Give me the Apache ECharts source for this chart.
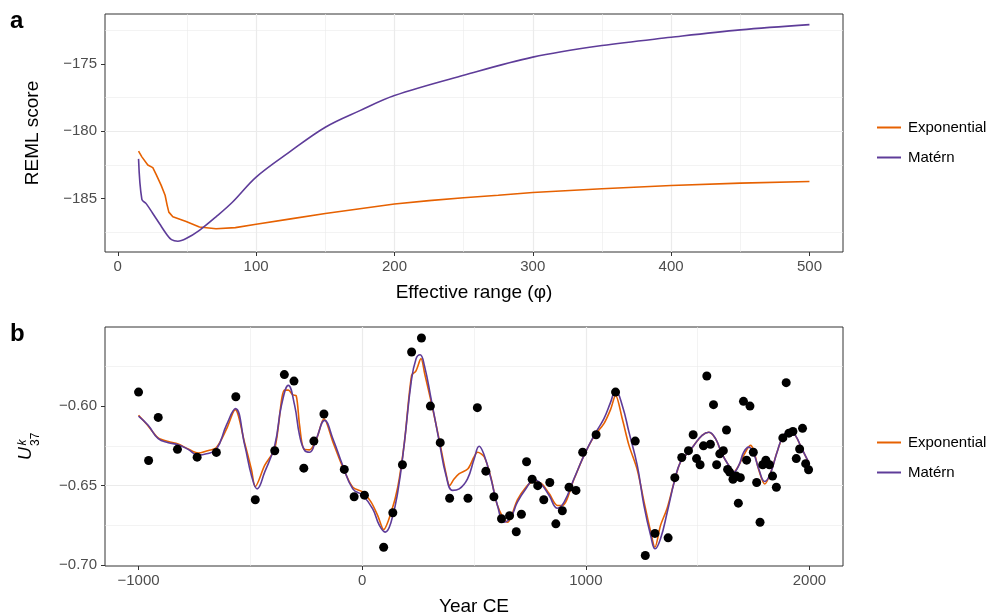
<!DOCTYPE html>
<html><head><meta charset="utf-8">
<script src="https://cdn.jsdelivr.net/npm/echarts@6/dist/echarts.min.js"></script>
<style>html,body{margin:0;padding:0;background:#fff}#c{width:990px;height:615px}</style>
</head><body><div id="c"></div>
<script>
// ---------- Panel a : REML score vs effective range ----------
const rangeExp = [15,17.4,21.7,25.3,27.7,31.3,34.2,35.7,36.9,39.8,49.4,59,71,85,100,125,150,175,200,225,250,275,300,350,400,450,500];
const remlExp  = [-181.48,-181.9,-182.5,-182.7,-183.2,-184.0,-184.75,-185.5,-186.0,-186.35,-186.7,-187.1,-187.23,-187.15,-186.9,-186.5,-186.1,-185.75,-185.4,-185.15,-184.93,-184.75,-184.55,-184.27,-184.02,-183.85,-183.73];
const rangeMat = [15,17.4,20.5,25.3,30.1,35,38.8,43.4,49.4,59,71,83,100,124,150,175,200,250,300,350,400,450,500];
const remlMat  = [-182.05,-185.05,-185.37,-186.1,-186.85,-187.6,-188.04,-188.16,-187.96,-187.35,-186.35,-185.25,-183.4,-181.55,-179.7,-178.47,-177.35,-175.85,-174.5,-173.64,-173.03,-172.48,-172.09];
const xTicksA = [0,100,200,300,400,500];
const yTicksA = [-185,-180,-175];

// ---------- Panel b : U37k vs year ----------
const yearPts = [-1000,-955,-912,-826,-738,-652,-565,-478,-391,-348,-305,-261,-216,-171,-80,-36,10,96,137,180,221,265,305,349,391,473,515,553,589,623,659,689,712,735,760,785,812,839,866,895,925,956,986,1046,1133,1221,1266,1309,1368,1398,1429,1459,1480,1495,1511,1526,1541,1557,1571,1585,1599,1615,1629,1634,1643,1658,1673,1682,1691,1705,1719,1734,1749,1764,1779,1791,1805,1821,1835,1852,1881,1896,1908,1926,1941,1956,1969,1983,1996];
const ukPts = [-0.5912,-0.6342,-0.6071,-0.6272,-0.6321,-0.6291,-0.5941,-0.6589,-0.6281,-0.5802,-0.5843,-0.639,-0.622,-0.605,-0.6398,-0.657,-0.656,-0.6887,-0.667,-0.6369,-0.566,-0.5572,-0.600,-0.623,-0.6579,-0.6579,-0.601,-0.6409,-0.657,-0.6708,-0.6689,-0.679,-0.668,-0.635,-0.646,-0.650,-0.6589,-0.648,-0.674,-0.6658,-0.651,-0.653,-0.629,-0.618,-0.5912,-0.622,-0.6939,-0.680,-0.6828,-0.645,-0.6323,-0.628,-0.618,-0.633,-0.6369,-0.625,-0.5811,-0.624,-0.5991,-0.6369,-0.630,-0.628,-0.615,-0.6398,-0.6415,-0.646,-0.644,-0.661,-0.645,-0.597,-0.634,-0.600,-0.629,-0.648,-0.673,-0.6369,-0.634,-0.6369,-0.644,-0.651,-0.620,-0.5853,-0.617,-0.616,-0.633,-0.627,-0.614,-0.6362,-0.640];
const yearMat = [-1000,-957,-912,-867,-823,-778,-734,-696,-652,-607,-567,-525,-495,-470,-436,-391,-361,-330,-302,-280,-257,-235,-205,-168,-131,-87,-42,3,47,77,103,129,159,189,219,241,259,278,308,345,375,404,434,471,501,523,546,576,605,635,665,694,732,769,799,836,873,903,947,992,1037,1081,1111,1133,1163,1193,1230,1260,1290,1310,1334,1364,1398,1423,1453,1483,1520,1550,1580,1609,1639,1661,1684,1706,1728,1751,1773,1800,1825,1855,1884,1914,1937,1966,1996];
const ukMat = [-0.6063,-0.6121,-0.6205,-0.623,-0.6243,-0.6272,-0.6308,-0.630,-0.6272,-0.612,-0.6016,-0.6247,-0.6436,-0.652,-0.6415,-0.6247,-0.5996,-0.587,-0.5996,-0.6184,-0.6279,-0.629,-0.6205,-0.609,-0.6205,-0.6373,-0.652,-0.6562,-0.6646,-0.675,-0.6792,-0.673,-0.6541,-0.6226,-0.5849,-0.5702,-0.5677,-0.5744,-0.5953,-0.6226,-0.6436,-0.653,-0.652,-0.6457,-0.6331,-0.6252,-0.631,-0.6457,-0.6625,-0.673,-0.6698,-0.6604,-0.652,-0.6461,-0.6488,-0.6562,-0.6642,-0.6604,-0.6457,-0.631,-0.6184,-0.6079,-0.5975,-0.5901,-0.5996,-0.6164,-0.6373,-0.6625,-0.6813,-0.6897,-0.6834,-0.6667,-0.6461,-0.6352,-0.630,-0.6247,-0.6184,-0.6164,-0.6205,-0.630,-0.6373,-0.6415,-0.6373,-0.629,-0.6258,-0.630,-0.6394,-0.6474,-0.6425,-0.629,-0.6184,-0.616,-0.6184,-0.6268,-0.6352];
const yearExp = [-1000,-957,-912,-867,-823,-778,-734,-696,-652,-607,-568,-525,-495,-478,-436,-391,-347,-330,-310,-295,-280,-261,-235,-205,-171,-131,-87,-42,3,40,70,96,129,159,189,221,240,263,280,308,345,375,391,410,434,473,500,516,546,576,605,650,665,694,732,761,799,836,873,895,947,992,1037,1081,1111,1133,1163,1193,1230,1260,1290,1309,1334,1364,1398,1423,1453,1483,1520,1550,1580,1609,1639,1661,1684,1706,1736,1751,1773,1800,1825,1855,1884,1914,1937,1966,1996];
const ukExp = [-0.6058,-0.6125,-0.620,-0.6222,-0.6238,-0.627,-0.6295,-0.6282,-0.626,-0.6145,-0.6022,-0.6235,-0.640,-0.6505,-0.6373,-0.6268,-0.590,-0.590,-0.593,-0.5935,-0.612,-0.627,-0.6275,-0.621,-0.608,-0.6225,-0.6383,-0.651,-0.654,-0.6604,-0.669,-0.6776,-0.667,-0.651,-0.6226,-0.5807,-0.578,-0.5702,-0.580,-0.597,-0.6215,-0.6425,-0.650,-0.646,-0.6425,-0.6394,-0.632,-0.629,-0.632,-0.645,-0.6625,-0.673,-0.670,-0.659,-0.651,-0.6478,-0.6485,-0.655,-0.6625,-0.6625,-0.646,-0.631,-0.619,-0.611,-0.602,-0.5933,-0.608,-0.6247,-0.640,-0.660,-0.679,-0.6887,-0.675,-0.664,-0.6461,-0.6352,-0.630,-0.6247,-0.6184,-0.6164,-0.6205,-0.630,-0.6373,-0.6415,-0.6373,-0.631,-0.6247,-0.628,-0.640,-0.649,-0.6425,-0.629,-0.6184,-0.616,-0.6184,-0.6268,-0.6352];
const xTicksB = [-1000,0,1000,2000];
const yTicksB = [-0.70,-0.65,-0.60];

const zip = (a, b) => a.map((v, i) => [v, b[i]]);
const FONT = 'Liberation Sans, Arial, sans-serif';
const ORANGE = '#E66101', PURPLE = '#5E3C99';
const minus = s => String(s).replace('-', '\u2212');

function vAxis(gridIndex, min, max, splitNumber, ticks, fmt, margin, extra) {
  return Object.assign({
    gridIndex, type: 'value', min, max, splitNumber,
    axisLine: { show: false, onZero: false },
    axisTick: { show: true, inside: false, length: 4, lineStyle: { color: '#333', width: 1 }, customValues: ticks },
    axisLabel: { customValues: ticks, color: '#4d4d4d', fontSize: 15, fontFamily: FONT, margin, formatter: fmt },
    splitLine: { show: true, showMinLine: false, showMaxLine: false, lineStyle: { color: '#ebebeb', width: 1.2 } },
    minorTick: { show: false, splitNumber: 2 },
    minorSplitLine: { show: true, lineStyle: { color: '#ebebeb', width: 0.6 } },
    nameLocation: 'middle',
    nameTextStyle: { fontSize: 19, color: '#000', fontFamily: FONT }
  }, extra);
}

function legendAt(top) {
  return { data: ['Exponential', 'Matérn'], orient: 'vertical', left: 877, top, padding: 0,
    icon: 'rect', itemWidth: 24, itemHeight: 2, itemGap: 15, selectedMode: false,
    textStyle: { fontSize: 15, color: '#000', fontFamily: FONT, padding: [0, 0, 0, 2] } };
}

const chart = echarts.init(document.getElementById('c'), null, { renderer: 'canvas' });
chart.setOption({
  animation: false,
  backgroundColor: '#fff',
  textStyle: { fontFamily: FONT },
  grid: [
    { left: 105, top: 14, width: 738, height: 238, show: true, borderColor: '#333', borderWidth: 1, backgroundColor: '#fff', containLabel: false, outerBoundsMode: 'none' },
    { left: 105, top: 327, width: 738, height: 239, show: true, borderColor: '#333', borderWidth: 1, backgroundColor: '#fff', containLabel: false, outerBoundsMode: 'none' }
  ],
  xAxis: [
    vAxis(0, -9.25, 524.25, 5, xTicksA, v => minus(v), 7, { name: 'Effective range (\u03C6)', nameGap: 31 }),
    vAxis(1, -1150, 2150, 3, xTicksB, v => minus(v), 7, { name: 'Year CE', nameGap: 31 })
  ],
  yAxis: [
    vAxis(0, -188.96, -171.3, 3, yTicksA, v => minus(v), 8, { name: 'REML score', nameGap: 63 }),
    vAxis(1, -0.7005, -0.5503, 3, yTicksB, v => minus(v.toFixed(2)), 8, {})
  ],
  legend: [ legendAt(120), legendAt(435) ],
  series: [
    { name: 'Exponential', type: 'line', xAxisIndex: 0, yAxisIndex: 0, data: zip(rangeExp, remlExp), symbol: 'none', smooth: false, lineStyle: { color: ORANGE, width: 1.6 }, itemStyle: { color: ORANGE } },
    { name: 'Matérn', type: 'line', xAxisIndex: 0, yAxisIndex: 0, data: zip(rangeMat, remlMat), symbol: 'none', smooth: 0.35, lineStyle: { color: PURPLE, width: 1.6 }, itemStyle: { color: PURPLE } },
    { name: 'Exponential', type: 'line', xAxisIndex: 1, yAxisIndex: 1, data: zip(yearExp, ukExp), symbol: 'none', smooth: 0.3, lineStyle: { color: ORANGE, width: 1.6 }, itemStyle: { color: ORANGE } },
    { name: 'Matérn', type: 'line', xAxisIndex: 1, yAxisIndex: 1, data: zip(yearMat, ukMat), symbol: 'none', smooth: 0.45, lineStyle: { color: PURPLE, width: 1.6 }, itemStyle: { color: PURPLE } },
    { name: 'data', type: 'scatter', xAxisIndex: 1, yAxisIndex: 1, data: zip(yearPts, ukPts), symbol: 'circle', symbolSize: 9, itemStyle: { color: '#000', opacity: 1 }, z: 5 }
  ],
  graphic: [
    { type: 'text', left: 10, top: 9, style: { text: 'a', font: 'bold 24px ' + FONT, fill: '#000' } },
    { type: 'text', left: 10, top: 322, style: { text: 'b', font: 'bold 24px ' + FONT, fill: '#000' } },
    { type: 'group', x: 31, y: 447, rotation: Math.PI / 2, children: [
      { type: 'text', x: 0, y: -5.5, style: { text: 'U', font: 'italic 18px ' + FONT, fill: '#000', align: 'right', verticalAlign: 'middle' } },
      { type: 'text', x: 1.5, y: -8, style: { text: 'k', font: 'italic 12px ' + FONT, fill: '#000', align: 'left', verticalAlign: 'middle' } },
      { type: 'text', x: 1, y: 4.5, style: { text: '37', font: '12px ' + FONT, fill: '#000', align: 'left', verticalAlign: 'middle' } }
    ] }
  ]
});
</script>
</body></html>
